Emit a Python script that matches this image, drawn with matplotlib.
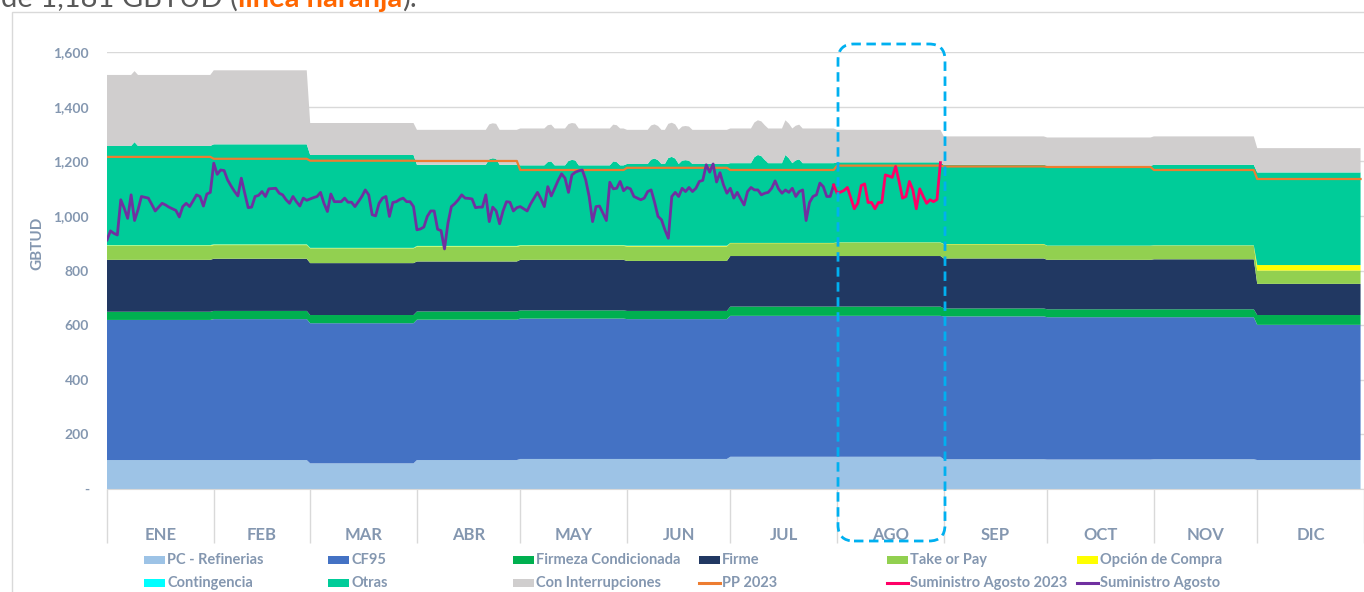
import numpy as np
import matplotlib
matplotlib.use("Agg")
import matplotlib.pyplot as plt
from matplotlib.patches import Rectangle, FancyBboxPatch
from matplotlib.lines import Line2D
from matplotlib.ticker import FuncFormatter
from matplotlib.transforms import IdentityTransform

plt.rcParams["font.family"] = ["Lato", "DejaVu Sans"]

W, H = 1364, 592

meses = ["ENE", "FEB", "MAR", "ABR", "MAY", "JUN", "JUL", "AGO", "SEP", "OCT", "NOV", "DIC"]
dias_mes = [31, 28, 31, 30, 31, 30, 31, 31, 30, 31, 30, 31]

# capas apiladas, valor mensual (GBTUD)
pc_refinerias = [106, 106, 94, 106, 110, 110, 118, 118, 109, 108, 109, 106]
cf95 = [513, 516, 513, 514, 514, 512, 516, 516, 523, 521, 520, 495]
firmeza_cond = [30, 30, 30, 30, 30, 30, 34, 34, 29, 29, 29, 36]
firme = [190, 191, 190, 183, 185, 183, 185, 185, 183, 181, 183, 114]
take_or_pay = [51, 50, 54, 54, 51, 53, 47, 49, 52, 51, 50, 49]
opcion_compra = [2, 2, 1, 2, 2, 2, 1, 1, 1, 1, 1, 20]
contingencia = [1, 1, 1, 1, 1, 1, 0, 0, 0, 0, 0, 0]
otras = [363, 366, 340, 297, 292, 299, 292, 293, 290, 292, 295, 339]
con_interrupciones = [260, 271, 117, 128, 135, 125, 127, 119, 104, 104, 104, 89]
pp_2023 = [1216, 1209, 1202, 1201, 1168, 1176, 1168, 1184, 1181, 1179, 1168, 1135]

# picos diarios de "Otras" (dia del año, incremento)
otras_picos = [(8, 14), (111, 20), (112, 24), (113, 22), (128, 12), (129, 14),
               (134, 16), (135, 20), (136, 18), (147, 14), (148, 12), (158, 16),
               (159, 20), (160, 14), (163, 22), (164, 26), (165, 20), (167, 12),
               (168, 14), (169, 12), (188, 22), (189, 30), (190, 26), (191, 12),
               (197, 30), (198, 18), (200, 10), (201, 14)]

# suministro diario, 1 ene - 31 jul
suministro_agosto = [
    912, 945, 936, 930, 1059, 1028, 991, 1077, 983, 1022,
    1071, 1068, 1065, 1042, 1018, 1032, 1046, 1040, 1032, 1026,
    1020, 996, 1034, 1046, 1034, 1055, 1077, 1071, 1036, 1080,
    1086, 1193, 1152, 1168, 1166, 1132, 1110, 1090, 1073, 1138,
    1083, 1030, 1032, 1071, 1075, 1089, 1071, 1099, 1100, 1101,
    1083, 1077, 1059, 1046, 1071, 1052, 1036, 1065, 1057, 1062,
    1067, 1071, 1086, 1046, 1016, 1080, 1052, 1052, 1052, 1065,
    1050, 1050, 1034, 1052, 1071, 1095, 1077, 1004, 1000, 1046,
    1065, 1071, 998, 1049, 1052, 1060, 1065, 1052, 1052, 1034,
    949, 952, 959, 998, 1018, 1018, 951, 946, 879, 973,
    1034, 1045, 1059, 1077, 1065, 1064, 1062, 1030, 1032, 1032,
    1077, 979, 1032, 1018, 971, 1018, 1052, 1050, 1018, 1030,
    1034, 1026, 1018, 1044, 1065, 1086, 1062, 1034, 1107, 1073,
    1101, 1130, 1154, 1138, 1086, 1150, 1160, 1165, 1168, 1132,
    1071, 979, 1034, 1036, 1010, 983, 1123, 1099, 1101, 1126,
    1092, 1104, 1099, 1071, 1065, 1059, 1065, 1089, 1095, 1050,
    998, 986, 949, 918, 1071, 1086, 1071, 1101, 1089, 1104,
    1089, 1101, 1126, 1130, 1187, 1160, 1190, 1124, 1158, 1114,
    1083, 1101, 1065, 1086, 1062, 1040, 1089, 1104, 1095, 1095,
    1077, 1083, 1086, 1101, 1128, 1099, 1083, 1095, 1086, 1101,
    1071, 1089, 1095, 983, 1049, 1071, 1077, 1120, 1107, 1071,
    1071, 1113]

# suministro diario, 31 jul - 31 ago
suministro_agosto_2023 = [
    1113, 1083, 1087, 1093, 1104, 1065, 1026, 1046, 1111, 1117, 1049,
    1049, 1026, 1049, 1049, 1150, 1146, 1141, 1181, 1126, 1065,
    1071, 1126, 1095, 1026, 1099, 1071, 1046, 1059, 1052, 1060, 1195]

nombres = ["PC - Refinerias", "CF95", "Firmeza Condicionada", "Firme", "Take or Pay",
           "Opción de Compra", "Contingencia", "Otras", "Con Interrupciones"]
colores = ["#9DC3E6", "#4472C4", "#00B050", "#213862", "#92D050",
           "#FFFF00", "#00FFFF", "#00CC99", "#D0CECE"]
TXT = "#8497B0"
GRID = "#D9D9D9"


def px_x(x):
    return x / W


def px_y(y):
    return 1 - y / H


def main():
    fig = plt.figure(figsize=(W / 100, H / 100), dpi=100)

    # marco del gráfico
    fig.add_artist(Rectangle((12, -10), 1400, H - 12 + 10, transform=IdentityTransform(),
                             fill=False, edgecolor=GRID, linewidth=1, zorder=0))

    ax = fig.add_axes([px_x(107), px_y(489), px_x(1364 - 107), (489 - 52) / H])

    # texto de la diapositiva, recortado arriba
    t1 = fig.text(0.001, px_y(7), "de 1,181 GBTUD (", fontsize=21, color="#595959",
                  va="baseline")
    a2 = ax.annotate("línea naranja", xy=(1, 0), xycoords=t1, va="bottom", ha="left",
                     fontsize=21, color="#FF6600", fontweight="bold", annotation_clip=False)
    ax.annotate(").", xy=(1, 0), xycoords=a2, va="bottom", ha="left",
                fontsize=21, color="#595959", annotation_clip=False)

    dias = np.arange(365)
    series = [pc_refinerias, cf95, firmeza_cond, firme, take_or_pay,
              opcion_compra, contingencia, otras, con_interrupciones]
    capas = [np.repeat(np.array(s, float), dias_mes) for s in series]
    for d, extra in otras_picos:
        capas[7][d] += extra

    ax.stackplot(dias, *capas, colors=colores, linewidth=0, zorder=2)
    ax.plot(dias, np.repeat(pp_2023, dias_mes), color="#ED7D31", lw=1.6, zorder=3)
    ax.plot(np.arange(len(suministro_agosto)), suministro_agosto,
            color="#7030A0", lw=2, zorder=4)
    ax.plot(np.arange(211, 211 + len(suministro_agosto_2023)), suministro_agosto_2023,
            color="#FF0066", lw=2, zorder=4)

    ax.set_xlim(0, (1364 - 107) / 3.452)
    ax.set_ylim(0, 1600)
    ax.set_yticks(np.arange(0, 1601, 200))
    ax.yaxis.set_major_formatter(FuncFormatter(lambda v, p: "-" if v == 0 else f"{v:,.0f}"))
    ax.tick_params(axis="y", length=0, pad=13, labelsize=10, labelcolor=TXT)
    for lab in ax.get_yticklabels():
        lab.set_fontweight("bold")
    ax.grid(axis="y", color=GRID, lw=1)
    ax.set_axisbelow(True)

    limites = np.concatenate([[0], np.cumsum(dias_mes)])
    ax.set_xticks(limites)
    ax.set_xticklabels([])
    ax.tick_params(axis="x", which="major", length=39, width=1, color=GRID)
    ax.set_xticks(limites[:-1] + np.array(dias_mes) / 2, minor=True)
    ax.set_xticklabels(meses, minor=True, fontweight="bold")
    ax.tick_params(axis="x", which="minor", length=0, pad=27, labelsize=12, labelcolor=TXT)

    for s in ("top", "right", "left"):
        ax.spines[s].set_visible(False)
    ax.spines["bottom"].set_color(GRID)

    fig.text(px_x(37), px_y(243), "GBTUD", rotation=90, ha="center", va="center",
             fontsize=11, fontweight="bold", color=TXT)

    # leyenda
    col_x = [144, 328, 513, 699, 887, 1077]
    fila_y = [560, 583]
    entradas = [(n, c, "patch") for n, c in zip(nombres, colores)]
    entradas += [("PP 2023", "#ED7D31", "line"), ("Suministro Agosto 2023", "#FF0066", "line"),
                 ("Suministro Agosto", "#7030A0", "line")]
    for i, (nombre, color, tipo) in enumerate(entradas):
        x = col_x[i % 6]
        y = H - fila_y[i // 6]
        if tipo == "patch":
            fig.add_artist(Rectangle((x, y - 4), 21, 8, transform=IdentityTransform(),
                                     facecolor=color, edgecolor="none"))
        else:
            fig.add_artist(Line2D([x, x + 21], [y, y], transform=IdentityTransform(),
                                  color=color, lw=2.2))
        fig.text(px_x(x + 23), y / H, nombre, ha="left", va="center", fontsize=10.5,
                 fontweight="bold", color=TXT)

    # recuadro de agosto
    caja = FancyBboxPatch((838, H - 541), 107, 497,
                          boxstyle="round,pad=0,rounding_size=16",
                          transform=IdentityTransform(), fill=False,
                          edgecolor="#00B0F0", linewidth=2, linestyle=(0, (3.4, 2.0)),
                          zorder=10)
    fig.add_artist(caja)

    fig.savefig("out.png", dpi=100)


if __name__ == "__main__":
    main()
